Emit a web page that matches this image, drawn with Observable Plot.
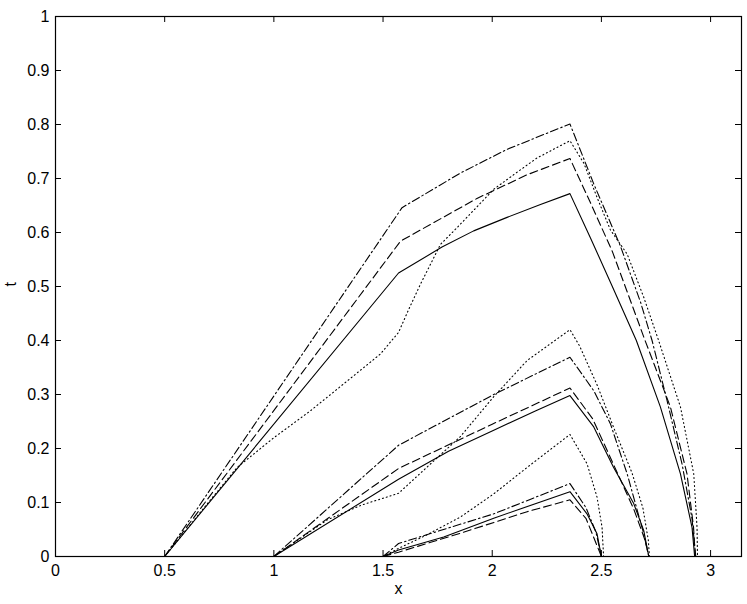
<!DOCTYPE html>
<html>
<head>
<meta charset="utf-8">
<script src="https://cdn.jsdelivr.net/npm/d3@7"></script>
<script src="https://cdn.jsdelivr.net/npm/@observablehq/plot@0.6"></script>
<style>
  html, body { margin: 0; padding: 0; background: #fff; }
</style>
</head>
<body>
<div id="chart"></div>
<script>
// Tick values
const xTicks = [0, 0.5, 1, 1.5, 2, 2.5, 3];
const yTicks = [0, 0.1, 0.2, 0.3, 0.4, 0.5, 0.6, 0.7, 0.8, 0.9, 1];
const xLabel = "x";
const yLabel = "t";

// Group 1 (starts at x = 0.5)
const g1Solid = [[0.5,0],[1.571,0.525],[1.77,0.573],[1.915,0.603],[2.068,0.628],[2.221,0.652],[2.356,0.672],[2.45,0.59],[2.55,0.50],[2.66,0.40],[2.77,0.277],[2.862,0.153],[2.915,0.054],[2.927,0]];
const g1Dashed = [[0.5,0],[1.58,0.584],[1.93,0.663],[2.16,0.707],[2.356,0.737],[2.45,0.655],[2.55,0.565],[2.70,0.40],[2.816,0.277],[2.892,0.153],[2.922,0.054],[2.93,0]];
const g1DashDot = [[0.5,0],[1.587,0.646],[1.854,0.71],[2.068,0.754],[2.356,0.801],[2.465,0.69],[2.587,0.575],[2.68,0.47],[2.732,0.40],[2.80,0.29],[2.87,0.17],[2.915,0.07],[2.932,0]];
const g1Dotted = [[0.5,0],[0.7,0.10],[0.832,0.165],[1.0,0.22],[1.168,0.27],[1.336,0.325],[1.488,0.375],[1.571,0.415],[1.618,0.458],[1.671,0.504],[1.763,0.578],[1.839,0.609],[2.007,0.68],[2.098,0.707],[2.205,0.738],[2.356,0.77],[2.42,0.728],[2.48,0.665],[2.541,0.605],[2.618,0.56],[2.694,0.48],[2.762,0.40],[2.862,0.277],[2.923,0.153],[2.938,0.054],[2.94,0]];

// Group 2 (starts at x = 1)
const g2Solid = [[1,0],[1.571,0.143],[1.80,0.195],[2.007,0.234],[2.2,0.27],[2.356,0.298],[2.465,0.24],[2.556,0.165],[2.648,0.098],[2.694,0.048],[2.717,0]];
const g2Dashed = [[1,0],[1.571,0.163],[2.0,0.245],[2.356,0.312],[2.46,0.255],[2.556,0.17],[2.648,0.088],[2.70,0.03],[2.717,0]];
const g2DashDot = [[1,0],[1.571,0.206],[2.007,0.30],[2.356,0.369],[2.465,0.307],[2.541,0.246],[2.618,0.153],[2.694,0.042],[2.717,0]];
const g2Dotted = [[1,0],[1.245,0.068],[1.40,0.095],[1.571,0.117],[1.70,0.165],[1.854,0.222],[2.007,0.296],[2.16,0.363],[2.356,0.42],[2.40,0.39],[2.48,0.318],[2.56,0.235],[2.64,0.155],[2.69,0.09],[2.715,0.03],[2.72,0]];

// Group 3 (starts at x = 1.5)
const g3Solid = [[1.5,0],[1.571,0.012],[1.778,0.036],[2.007,0.071],[2.356,0.12],[2.434,0.079],[2.48,0.042],[2.5,0]];
const g3Dashed = [[1.5,0],[1.571,0.008],[1.854,0.043],[2.16,0.083],[2.356,0.105],[2.43,0.07],[2.47,0.03],[2.5,0]];
const g3DashDot = [[1.5,0],[1.571,0.024],[2.007,0.079],[2.356,0.135],[2.43,0.09],[2.475,0.045],[2.5,0]];
const g3Dotted = [[1.5,0],[1.571,0.015],[1.70,0.04],[1.854,0.073],[2.007,0.116],[2.16,0.165],[2.356,0.226],[2.434,0.172],[2.48,0.11],[2.503,0.054],[2.51,0]];

const seriesList = [
  {name: "g1Solid", style: "solid", pts: g1Solid},
  {name: "g1Dashed", style: "dashed", pts: g1Dashed},
  {name: "g1DashDot", style: "dashdot", pts: g1DashDot},
  {name: "g1Dotted", style: "dotted", pts: g1Dotted},
  {name: "g2Solid", style: "solid", pts: g2Solid},
  {name: "g2Dashed", style: "dashed", pts: g2Dashed},
  {name: "g2DashDot", style: "dashdot", pts: g2DashDot},
  {name: "g2Dotted", style: "dotted", pts: g2Dotted},
  {name: "g3Solid", style: "solid", pts: g3Solid},
  {name: "g3Dashed", style: "dashed", pts: g3Dashed},
  {name: "g3DashDot", style: "dashdot", pts: g3DashDot},
  {name: "g3Dotted", style: "dotted", pts: g3Dotted}
];

const rows = seriesList.flatMap(s => s.pts.map(([x, y]) => ({x, y, series: s.name, style: s.style})));
const dashes = {solid: null, dashed: "8,4", dashdot: "8,3,1.5,3", dotted: "1,3"};

const lineMarks = Object.keys(dashes).map(st =>
  Plot.line(rows.filter(r => r.style === st), {
    x: "x", y: "y", z: "series",
    stroke: "black", strokeWidth: 1.1,
    strokeDasharray: dashes[st]
  })
);

const fmt = d => String(d);

const chart = Plot.plot({
  width: 747,
  height: 604,
  marginLeft: 55,
  marginRight: 6,
  marginTop: 16,
  marginBottom: 48,
  style: {fontFamily: "'Liberation Sans', Arial, Helvetica, sans-serif", fontSize: "16px", color: "black", background: "white"},
  x: {domain: [0, Math.PI]},
  y: {domain: [0, 1]},
  marks: [
    Plot.axisX(xTicks, {tickSize: 0, tickPadding: 8, label: null, tickFormat: fmt, fontSize: 16}),
    Plot.axisY(yTicks, {tickSize: 0, tickPadding: 6, label: null, tickFormat: fmt, fontSize: 16}),
    Plot.tickX(xTicks, {x: d => d, insetTop: 534, stroke: "black"}),
    Plot.tickX(xTicks, {x: d => d, insetBottom: 534, stroke: "black"}),
    Plot.tickY(yTicks, {y: d => d, insetRight: 680, stroke: "black"}),
    Plot.tickY(yTicks, {y: d => d, insetLeft: 680, stroke: "black"}),
    ...lineMarks,
    Plot.frame({stroke: "black", strokeWidth: 1.2}),
    Plot.text([xLabel], {frameAnchor: "bottom", dy: 37, text: d => d, fontSize: 16}),
    Plot.text([yLabel], {frameAnchor: "left", dx: -45, rotate: -90, text: d => d, fontSize: 16})
  ]
});
document.getElementById("chart").appendChild(chart);
</script>
</body>
</html>
